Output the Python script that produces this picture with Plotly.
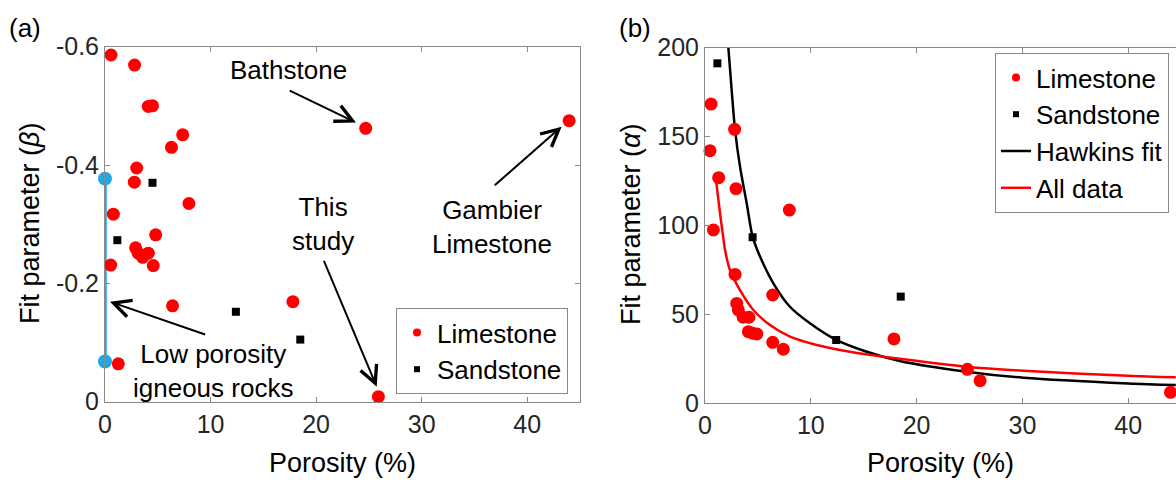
import plotly.graph_objects as go

# ---------------- data: panel (a) ----------------
lime_por_a = [0.57, 2.8, 4.1, 4.5, 7.36, 6.3, 3.0, 2.78, 7.95, 0.79, 4.8, 2.9, 3.15,
              3.57, 4.1, 0.54, 4.57, 6.4, 1.26, 17.8, 24.7, 43.97, 25.9]
lime_beta = [-0.586, -0.569, -0.499, -0.50, -0.451, -0.430, -0.395, -0.371, -0.335,
             -0.317, -0.282, -0.260, -0.251, -0.244, -0.251, -0.231, -0.230, -0.162,
             -0.064, -0.169, -0.462, -0.475, -0.0085]
sand_por_a = [4.5, 1.17, 12.4, 18.5]
sand_beta = [-0.370, -0.273, -0.152, -0.105]
igneous_por = [0, 0]
igneous_beta = [-0.377, -0.068]

# ---------------- data: panel (b) ----------------
lime_por_b = [0.57, 2.8, 0.47, 1.29, 2.93, 7.97, 0.79, 2.84, 6.4, 3.0, 3.15, 3.6, 4.16,
              4.1, 4.5, 4.9, 6.4, 7.4, 17.86, 24.8, 26.0, 44.0]
lime_alpha = [168.3, 154.1, 142.1, 126.9, 120.7, 108.7, 97.5, 72.5, 60.9, 56.2, 52.5,
              48.4, 48.4, 40.3, 39.4, 39.0, 34.3, 30.4, 36.2, 19.1, 12.7, 6.2]
sand_por_b = [1.17, 4.5, 12.4, 18.5]
sand_alpha = [191.2, 93.4, 35.6, 60.0]
hawkins_por = [2.2, 2.52, 2.84, 3.31, 3.94, 4.5, 5.2, 6.46, 8.03, 9.92, 12.3, 15.3,
               18.4, 24.7, 30.1, 40.0, 44.5]
hawkins_alpha = [200.6, 176.2, 153.7, 133.1, 112.5, 93.7, 82.5, 67.5, 54.3, 45.0, 36.0,
                 29.0, 23.8, 17.8, 14.4, 11.2, 10.3]
alldata_por = [1.04, 1.42, 1.73, 1.89, 2.36, 3.31, 4.57, 6.14, 8.03, 10.56, 13.7, 18.4,
               24.7, 30.1, 40.0, 44.5]
alldata_alpha = [125.6, 106.9, 93.0, 86.3, 75.0, 63.7, 52.5, 44.0, 37.5, 32.8, 29.0,
                 25.0, 20.6, 18.3, 15.5, 14.6]

x_ticks = [0, 10, 20, 30, 40]
beta_ticks = [0, -0.2, -0.4, -0.6]
beta_ticktext = ["0", "-0.2", "-0.4", "-0.6"]
alpha_ticks = [0, 50, 100, 150, 200]

FONT = "Liberation Sans, Arial, sans-serif"
RED = "#FF0000"
BLACK = "#000000"
BLUE = "#1CA9E6"
AXC = "#8A8A8A"
TXT = "#262626"

fig = go.Figure()

# ---- panel (a) ----
fig.add_trace(go.Scatter(x=igneous_por, y=igneous_beta, mode="lines+markers",
                         line=dict(color=BLUE, width=3.5), marker=dict(color=BLUE, size=14),
                         cliponaxis=False, showlegend=False, xaxis="x", yaxis="y"))
fig.add_trace(go.Scatter(x=lime_por_a, y=lime_beta, mode="markers",
                         marker=dict(color=RED, size=13), cliponaxis=False,
                         showlegend=False, xaxis="x", yaxis="y"))
fig.add_trace(go.Scatter(x=sand_por_a, y=sand_beta, mode="markers",
                         marker=dict(color=BLACK, size=8, symbol="square"), cliponaxis=False,
                         showlegend=False, xaxis="x", yaxis="y"))
fig.add_trace(go.Scatter(x=[None], y=[None], mode="markers", name="Limestone",
                         marker=dict(color=RED, size=8), xaxis="x", yaxis="y", legend="legend"))
fig.add_trace(go.Scatter(x=[None], y=[None], mode="markers", name="Sandstone",
                         marker=dict(color=BLACK, size=6, symbol="square"), xaxis="x", yaxis="y",
                         legend="legend"))

# ---- panel (b) ----
fig.add_trace(go.Scatter(x=hawkins_por, y=hawkins_alpha, mode="lines",
                         line=dict(color=BLACK, width=2.5, shape="spline", smoothing=0.8),
                         showlegend=False, xaxis="x2", yaxis="y2"))
fig.add_trace(go.Scatter(x=alldata_por, y=alldata_alpha, mode="lines",
                         line=dict(color=RED, width=2.5, shape="spline", smoothing=0.8),
                         showlegend=False, xaxis="x2", yaxis="y2"))
fig.add_trace(go.Scatter(x=lime_por_b, y=lime_alpha, mode="markers",
                         marker=dict(color=RED, size=13), cliponaxis=False,
                         showlegend=False, xaxis="x2", yaxis="y2"))
fig.add_trace(go.Scatter(x=sand_por_b, y=sand_alpha, mode="markers",
                         marker=dict(color=BLACK, size=8, symbol="square"), cliponaxis=False,
                         showlegend=False, xaxis="x2", yaxis="y2"))
fig.add_trace(go.Scatter(x=[None], y=[None], mode="markers", name="Limestone",
                         marker=dict(color=RED, size=8), xaxis="x2", yaxis="y2", legend="legend2"))
fig.add_trace(go.Scatter(x=[None], y=[None], mode="markers", name="Sandstone",
                         marker=dict(color=BLACK, size=6, symbol="square"), xaxis="x2", yaxis="y2",
                         legend="legend2"))
fig.add_trace(go.Scatter(x=[None], y=[None], mode="lines", name="Hawkins fit",
                         line=dict(color=BLACK, width=2.5), xaxis="x2", yaxis="y2", legend="legend2"))
fig.add_trace(go.Scatter(x=[None], y=[None], mode="lines", name="All data",
                         line=dict(color=RED, width=2.5), xaxis="x2", yaxis="y2", legend="legend2"))

W, H = 1176, 484
def px_x(p):
    return p / W
def px_y(p):
    return 1 - p / H

axis_common = dict(showline=True, linecolor=AXC, linewidth=1, ticks="inside", ticklen=5,
                   tickcolor=AXC, showgrid=False, zeroline=False, automargin=False,
                   tickfont=dict(family=FONT, size=25, color=TXT))

fig.update_layout(
    width=W, height=H, margin=dict(l=0, r=0, t=0, b=0, autoexpand=False),
    paper_bgcolor="white", plot_bgcolor="white",
    font=dict(family=FONT, color=BLACK),
    xaxis=dict(axis_common, domain=[px_x(105), px_x(580)], range=[0, 45],
               tickvals=x_ticks, mirror="ticks", anchor="y"),
    yaxis=dict(axis_common, domain=[px_y(401.7), px_y(46.7)], range=[0, -0.6],
               tickvals=beta_ticks, ticktext=beta_ticktext, mirror="ticks", anchor="x"),
    xaxis2=dict(axis_common, domain=[px_x(705), 1.0], range=[0, (W - 705) / 10.58],
                tickvals=x_ticks, mirror="ticks", anchor="y2"),
    yaxis2=dict(axis_common, domain=[px_y(403.3), px_y(47.7)], range=[0, 200],
                tickvals=alpha_ticks, anchor="x2"),
    legend=dict(x=px_x(568), y=px_y(394), xanchor="right", yanchor="bottom",
                bordercolor=AXC, borderwidth=1, bgcolor="white",
                font=dict(family=FONT, size=26, color=BLACK), tracegroupgap=0),
    legend2=dict(x=px_x(1169), y=px_y(53), xanchor="right", yanchor="top",
                 bordercolor=AXC, borderwidth=1, bgcolor="white",
                 font=dict(family=FONT, size=26, color=BLACK), tracegroupgap=0),
)

ann = []
def text_ann(x, y, text, xref="paper", yref="paper", size=26, angle=0):
    ann.append(dict(x=x, y=y, xref=xref, yref=yref, text=text, showarrow=False,
                    font=dict(family=FONT, size=size, color=BLACK), textangle=angle,
                    xanchor="center", yanchor="middle"))

def arrow_ann(x, y, ax, ay, xref="x", yref="y"):
    ann.append(dict(x=x, y=y, ax=ax, ay=ay, xref=xref, yref=yref, axref=xref, ayref=yref,
                    text="", showarrow=True, arrowhead=5, arrowsize=1.7, arrowwidth=2,
                    arrowcolor=BLACK, standoff=0, startstandoff=0))

# panel labels
text_ann(px_x(25), px_y(28), "(a)", size=26)
text_ann(px_x(635), px_y(28), "(b)", size=26)
# axis titles
text_ann(px_x(342), px_y(463), "Porosity (%)", size=27)
text_ann(px_x(940), px_y(463), "Porosity (%)", size=27)
text_ann(px_x(30), px_y(224), "Fit parameter (<i>β</i>)", size=27, angle=-90)
text_ann(px_x(631), px_y(225), "Fit parameter (<i>α</i>)", size=27, angle=-90)
# panel (a) notes
text_ann(17.34, -0.561, "Bathstone", xref="x", yref="y")
text_ann(20.65, -0.300, "This<br>study", xref="x", yref="y")
text_ann(36.66, -0.2945, "Gambier<br>Limestone", xref="x", yref="y")
text_ann(10.23, -0.0522, "Low porosity<br>igneous rocks", xref="x", yref="y")
arrow_ann(23.78, -0.4717, 17.36, -0.527)
arrow_ann(25.74, -0.0254, 20.68, -0.2407)
arrow_ann(43.26, -0.4649, 36.78, -0.3635)
arrow_ann(0.47, -0.169, 9.63, -0.1128)

fig.update_layout(annotations=ann)
fig.write_html("out.html")
